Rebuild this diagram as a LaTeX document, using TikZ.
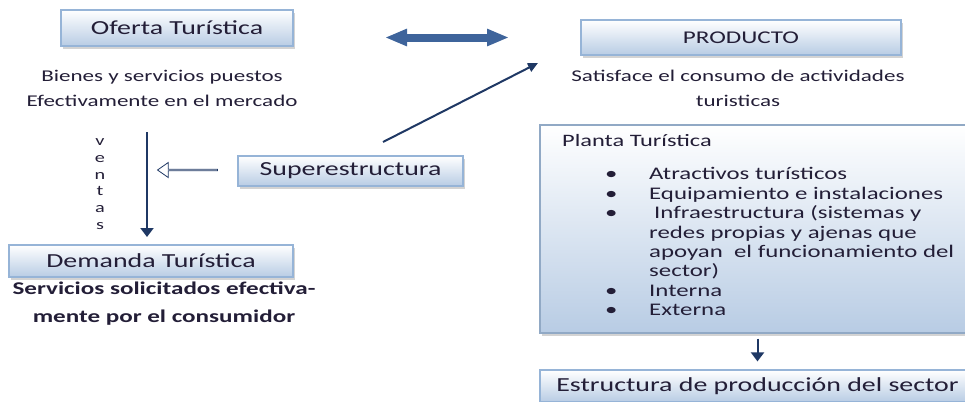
\documentclass[tikz,border=0pt]{standalone}
\usepackage{fontspec}
\setmainfont{Carlito}[FakeStretch=1.4]
\usepackage{xcolor}
\usetikzlibrary{arrows.meta,shadows,shapes.arrows}
\definecolor{txt}{RGB}{35,30,55}
\definecolor{borde}{RGB}{150,180,215}
\definecolor{azulclaro}{RGB}{184,204,228}
\definecolor{marino}{RGB}{31,56,100}
\definecolor{flechaazul}{RGB}{62,100,155}

\begin{document}
\begin{tikzpicture}[x=1bp,y=-1bp,
caja/.style={draw=borde, line width=1.2bp, top color=white, bottom color=azulclaro, text=txt,
  drop shadow={shadow xshift=2bp, shadow yshift=-2.5bp, opacity=0.35, fill=gray},
  font=\fontsize{20}{24}\selectfont},
texto/.style={text=txt, align=center, font=\fontsize{16.5}{25}\selectfont},
conector/.style={draw=marino, line width=2bp, -{Triangle[width=13bp,length=9bp]}},
doble/.style={draw=flechaazul, line width=8bp, {Triangle[width=16bp,length=22bp]}-{Triangle[width=16bp,length=22bp]}}]
\tikzstyle{every node}+=[inner sep=0pt]
\useasboundingbox (0,0) rectangle (965,401);
\node (oferta) [caja, minimum width=232bp, minimum height=36bp] at (177,28) {Oferta Turística};
\node (bienes) [texto] at (162,88) {Bienes y servicios puestos\\Efectivamente en el mercado};
\node (ventas) [texto, font=\fontsize{14.5}{16.8}\selectfont] at (100,184) {v\\e\\n\\t\\a\\s};
\node (super) [caja, minimum width=225bp, minimum height=30bp] at (350.5,171) {Superestructura};
\node (demanda) [caja, minimum width=284bp, minimum height=32bp] at (151,261) {Demanda Turística};
\node (servicios) [texto, font=\fontsize{18}{28}\bfseries] at (164,304) {Servicios solicitados efectiva-\\mente por el consumidor};
\node (producto) [caja, minimum width=320bp, minimum height=35bp, font=\fontsize{18}{22}\selectfont] at (741,37.5) {PRODUCTO};
\node (satisface) [texto] at (738,88) {Satisface el consumo de actividades\\turisticas};
\node (planta) [caja, draw=borde!80!gray, minimum width=435bp, minimum height=208bp] at (757.5,229) {};
\node (titulo) [text=txt, anchor=west, font=\fontsize{17.5}{20}\selectfont] at (562,141) {Planta Turística};
\node (lista) [text=txt, anchor=north west, font=\fontsize{17.8}{19.5}\selectfont] at (605,166) {%
\begin{tabular}{@{}p{44bp}@{}l@{}}
\textbullet & Atractivos turísticos\\
\textbullet & Equipamiento e instalaciones\\
\textbullet & \hspace{5bp}Infraestructura (sistemas y\\
 & redes propias y ajenas que\\
 & apoyan \ el funcionamiento del\\
 & sector)\\
\textbullet & Interna\\
\textbullet & Externa
\end{tabular}};
\node (estructura) [caja, minimum width=435bp, minimum height=32bp] at (757.5,386) {Estructura de producción del sector};
\node (hueco) [single arrow, draw=marino, line width=0.8bp, fill=white, shape border rotate=180,
  minimum height=60bp, minimum width=15bp, single arrow head extend=4bp, single arrow tip angle=70] at (188,170) {};
\coordinate (v1) at (147,132);
\coordinate (v2) at (147,237);
\coordinate (d1) at (383,142);
\coordinate (d2) at (538,63);
\coordinate (f1) at (385,37.5);
\coordinate (f2) at (509,37.5);
\draw [conector] (v1) -- (v2);
\draw [conector, -{Triangle[width=9bp,length=10bp]}] (d1) -- (d2);
\draw [conector, shorten <=5bp, shorten >=8bp] (planta.south) -- (estructura.north);
\draw [doble] (f1) -- (f2);
\end{tikzpicture}
\end{document}
